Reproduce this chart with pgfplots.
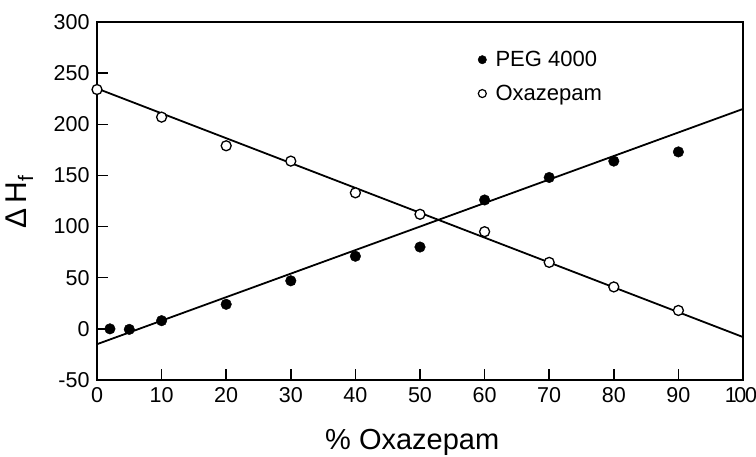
\documentclass[border=0pt]{standalone}
\usepackage{fontspec}
\setmainfont{Liberation Sans}
\usepackage{pgfplots}
\pgfplotsset{compat=1.18}
\begin{document}
\begin{tikzpicture}
\useasboundingbox (-97pt,-76pt) rectangle (659pt,380pt);
\begin{axis}[
  scale only axis, width=646pt, height=358pt,
  xmin=0, xmax=100, ymin=-50, ymax=300,
  xtick={0,10,...,100}, ytick={-50,0,...,300},
  xticklabels={0,10,20,30,40,50,60,70,80,90,{\hspace*{-4pt}1\kern-2.5pt0\kern-1pt0}},
  /pgf/number format/assume math mode=true,
  tick align=inside, xtick pos=lower, ytick pos=left,
  major tick length=11pt,
  axis line style={line width=1.5pt},
  tick style={line width=1.5pt, black},
  tick label style={font=\fontsize{21.5}{24}\selectfont},
  yticklabel style={xshift=-4pt},
  xticklabel style={yshift=-4pt},
  xlabel={\% Oxazepam},
  xlabel style={font=\fontsize{29}{32}\selectfont, at={(axis description cs:0.488,-0.1955)}, anchor=base},
  ylabel={Δ\,H\textsubscript{f}},
  ylabel style={font=\fontsize{30}{32}\selectfont, at={(axis description cs:-0.12,0.497)}, anchor=center},
  clip=false,
  legend style={draw=none, fill=none, at={(axis description cs:0.585,0.93)}, anchor=north west,
    font=\fontsize{22}{24}\selectfont, row sep=13pt,
    /tikz/every odd column/.append style={column sep=7pt}},
  legend cell align=left,
]
\addlegendimage{only marks, mark=*, mark size=4.2pt, black}
\addlegendentry{PEG 4000}
\addlegendimage{only marks, mark=o, mark size=4pt, line width=1.2pt, black}
\addlegendentry{Oxazepam}
\addplot[forget plot, line width=1.8pt, black] coordinates {(0,-15) (100,215)};
\addplot[forget plot, line width=1.8pt, black] coordinates {(0,235) (100,-8)};
\addplot[forget plot, only marks, mark=*, mark size=5.3pt, black] coordinates {
(2,0) (5,-0.5) (10,8) (20,24) (30,47) (40,71) (50,80) (60,126) (70,148) (80,164) (90,173)};
\addplot[forget plot, only marks, mark=*, mark size=5pt, black, mark options={fill=white, line width=1.3pt}] coordinates {
(0,234) (10,207) (20,179) (30,164) (40,133) (50,112) (60,95) (70,65) (80,41) (90,18)};
\end{axis}
\end{tikzpicture}
\end{document}
